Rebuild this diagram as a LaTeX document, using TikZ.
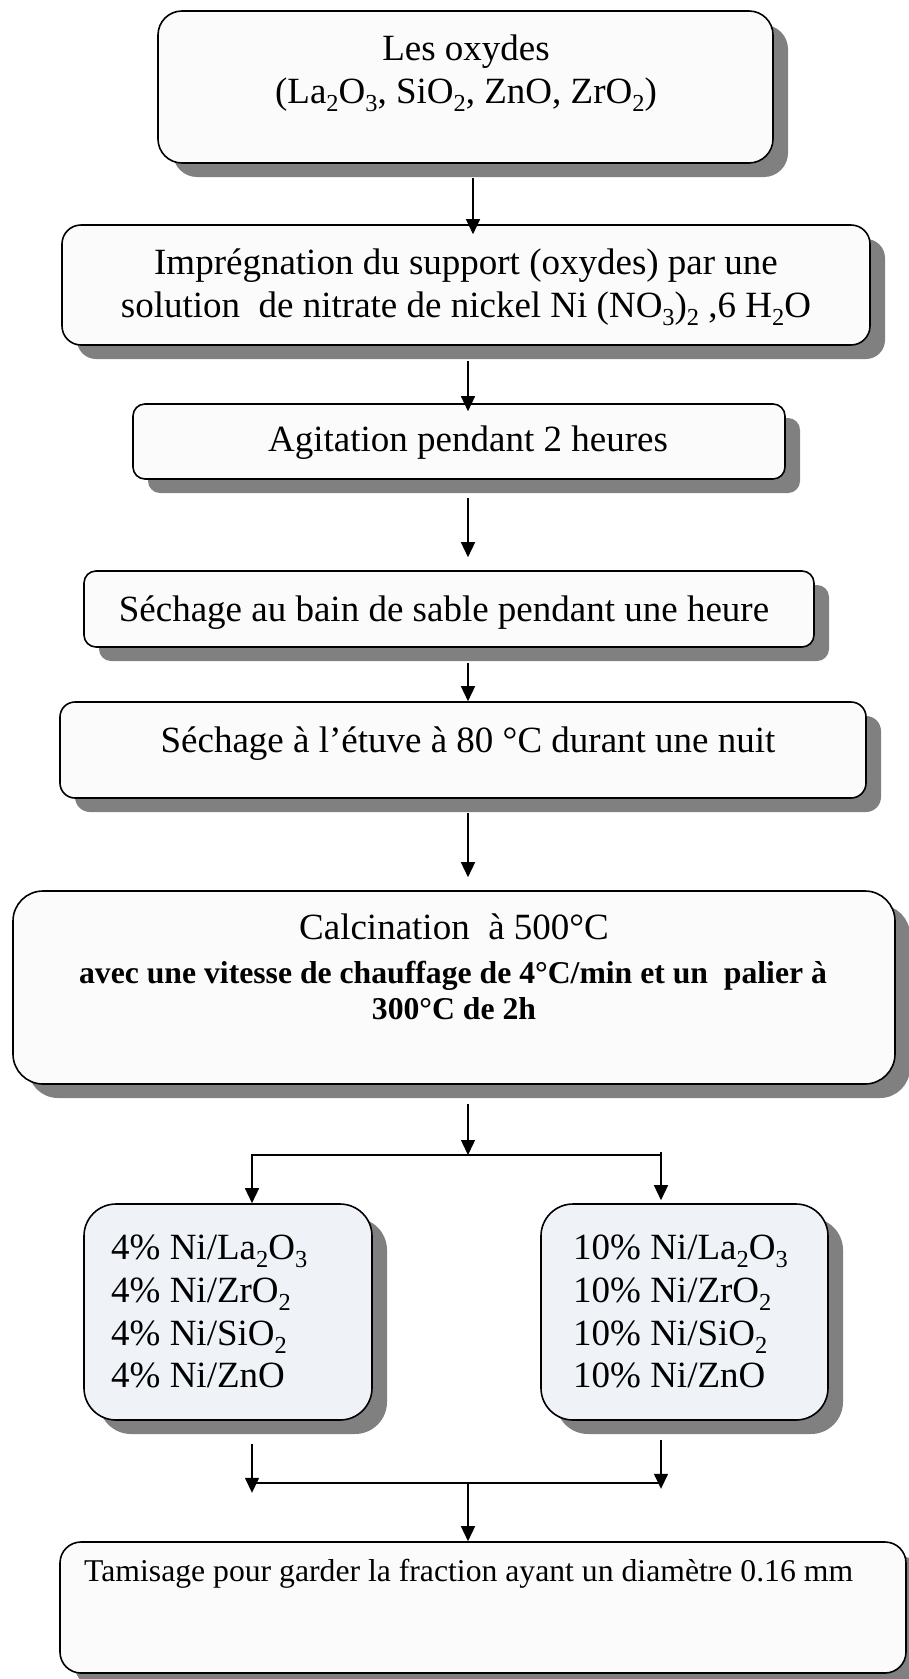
\documentclass[tikz,border=0pt]{standalone}
\usepackage{fontspec}
\setmainfont{Liberation Serif}
\usetikzlibrary{arrows.meta,shadows,calc}

\definecolor{boxfill}{RGB}{251,251,251}
\definecolor{bluefill}{RGB}{239,243,248}
\definecolor{shadowgray}{RGB}{128,128,128}

% chemical subscript, lowered and reduced
\newcommand{\dn}[1]{\raisebox{-0.22em}{\scalebox{0.66}{#1}}}
% 14 pt and 12 pt body sizes at drawing scale
\newcommand{\sizeA}{\fontsize{37}{42.5}\selectfont}
\newcommand{\sizeB}{\fontsize{31.7}{36.5}\selectfont}

\tikzset{
  stepbox/.style={draw=black, line width=1.6pt, fill=boxfill, inner sep=0pt,
    drop shadow={shadow xshift=15pt, shadow yshift=-14pt, opacity=1, fill=shadowgray}},
  bluebox/.style={stepbox, fill=bluefill},
  txt/.style={inner sep=0pt, anchor=base, font=\sizeA},
  txtl/.style={inner sep=0pt, anchor=base west, font=\sizeA},
  arr/.style={line width=1.4pt, -{Triangle[width=14pt,length=15pt]}},
  ln/.style={line width=1.4pt},
}

\begin{document}
\begin{tikzpicture}[x=1pt,y=-1pt]
\useasboundingbox (0,0) rectangle (908,1679);

% process boxes
\node[stepbox, rounded corners=24pt, minimum width=615pt, minimum height=152pt] (b1) at (465.5,87) {};
\node[stepbox, rounded corners=19pt, minimum width=808pt, minimum height=120pt] (b2) at (466,285) {};
\node[stepbox, rounded corners=12pt, minimum width=652pt, minimum height=75pt] (b3) at (459,441.5) {};
\node[stepbox, rounded corners=12pt, minimum width=730pt, minimum height=76pt] (b4) at (449,609) {};
\node[stepbox, rounded corners=15pt, minimum width=806pt, minimum height=96pt] (b5) at (463,750) {};
\node[stepbox, rounded corners=30pt, minimum width=882pt, minimum height=193pt] (b6) at (454,987.5) {};
\node[bluebox, rounded corners=32pt, minimum width=288pt, minimum height=216pt] (b7) at (228,1312) {};
\node[bluebox, rounded corners=32pt, minimum width=287pt, minimum height=216pt] (b8) at (684.5,1312) {};
\node[stepbox, rounded corners=21pt, minimum width=846pt, minimum height=131pt] (b9) at (483,1607.5) {};

% texts
\node[txt] (t1a) at (466,60) {Les oxydes};
\node[txt] (t1b) at (466,103) {(La\dn{2}O\dn{3}, SiO\dn{2}, ZnO, ZrO\dn{2})};
\node[txt] (t2a) at (466,274) {Imprégnation du support (oxydes) par une};
\node[txt] (t2b) at (466,317) {solution\ \ de nitrate de nickel Ni (NO\dn{3})\dn{2} ,6 H\dn{2}O};
\node[txt] (t3) at (468,451) {Agitation pendant 2 heures};
\node[txt] (t4) at (444,621) {Séchage au bain de sable pendant une heure};
\node[txt] (t5) at (468,752) {Séchage à l’étuve à 80 °C durant une nuit};
\node[txt] (t6a) at (454,939) {Calcination\ \ à 500°C};
\node[txt, font=\sizeB\bfseries] (t6b) at (453,983) {avec une vitesse de chauffage de 4°C/min et un\ \ palier à};
\node[txt, font=\sizeB\bfseries] (t6c) at (454,1019) {300°C de 2h};

\node[txtl] (t7a) at (111,1259) {4\% Ni/La\dn{2}O\dn{3}};
\node[txtl] (t7b) at (111,1302) {4\% Ni/ZrO\dn{2}};
\node[txtl] (t7c) at (111,1345) {4\% Ni/SiO\dn{2}};
\node[txtl] (t7d) at (111,1387) {4\% Ni/ZnO};
\node[txtl] (t8a) at (573,1259) {10\% Ni/La\dn{2}O\dn{3}};
\node[txtl] (t8b) at (573,1302) {10\% Ni/ZrO\dn{2}};
\node[txtl] (t8c) at (573,1345) {10\% Ni/SiO\dn{2}};
\node[txtl] (t8d) at (573,1387) {10\% Ni/ZnO};

\node[txtl, font=\sizeB] (t9) at (84,1581) {Tamisage pour garder la fraction ayant un diamètre 0.16 mm};

% connector columns and junctions
\coordinate (xa) at (473,0);
\coordinate (xm) at (468,0);
\coordinate (jl) at (252,1155);
\coordinate (jm) at (468,1155);
\coordinate (jr) at (661,1155);
\coordinate (kl) at (252,1483);
\coordinate (km) at (468,1483);
\coordinate (kr) at (661,1483);

% main flow
\draw[arr] ($(b1.south -| xa)+(0,14)$) -- ($(b2.north -| xa)+(0,10)$);
\draw[arr] ($(b2.south -| xm)+(0,15)$) -- ($(b3.north -| xm)+(0,8)$);
\draw[arr] ($(b3.south -| xm)+(0,18)$) -- ($(b4.north -| xm)+(0,-13)$);
\draw[arr] ($(b4.south -| xm)+(0,15)$) -- (b5.north -| xm);
\draw[arr] ($(b5.south -| xm)+(0,14)$) -- ($(b6.north -| xm)+(0,-13)$);
\draw[arr] ($(b6.south -| xm)+(0,19)$) -- (jm);

% split into the two series
\draw[arr] (jr) -- (jl) -- (b7.north -| jl);
\draw[arr] ($(jr)+(0,-3)$) -- ($(b8.north -| jr)+(0,-3)$);

% merge towards sieving
\draw[arr] ($(b7.south -| kl)+(0,23)$) -- ($(b7.south -| kl)+(0,72)$);
\draw[arr] ($(b8.south -| kr)+(0,19)$) -- ($(b8.south -| kr)+(0,68)$);
\draw[ln] (kl) -- (kr);
\draw[arr] (km) -- (b9.north -| km);
\end{tikzpicture}
\end{document}
